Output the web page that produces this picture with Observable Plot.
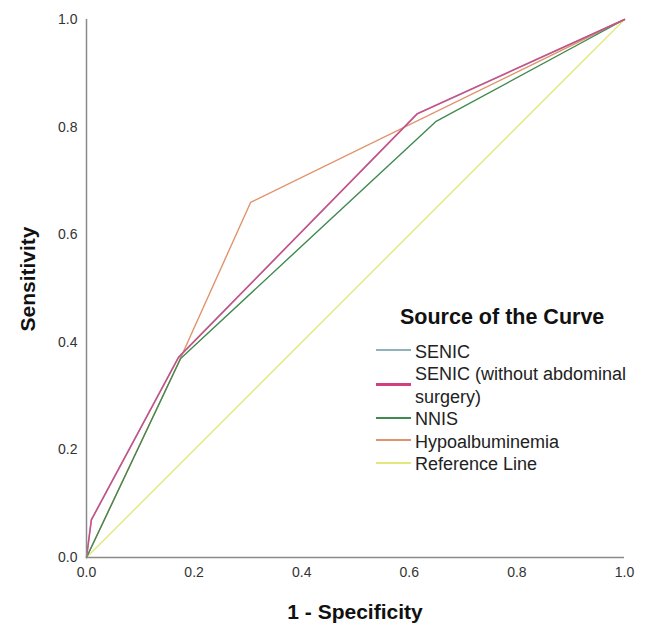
<!DOCTYPE html>
<html>
<head>
<meta charset="utf-8">
<script src="https://cdn.jsdelivr.net/npm/d3@7"></script>
<script src="https://cdn.jsdelivr.net/npm/@observablehq/plot@0.6"></script>
<style>
  html, body { margin: 0; padding: 0; background: #fff; }
  #wrap { position: relative; width: 646px; height: 628px; font-family: "Liberation Sans", Arial, sans-serif; }
  #legend { position: absolute; left: 376px; top: 305px; color: #222; font-size: 18px; }
  #legend .title { font-weight: bold; font-size: 21.5px; line-height: 24px; margin-left: 24px; margin-bottom: 11.5px; color: #111; }
  #legend .item { display: flex; align-items: center; line-height: 22.5px; }
  #legend .sw { width: 35px; flex: none; margin-right: 4px; margin-top: -3px; }
  .axlabel { position: absolute; font-weight: bold; font-size: 21px; color: #111; white-space: nowrap; line-height: 24px; }
  #xlabel { left: 355px; top: 612px; transform: translate(-50%, -50%); }
  #ylabel { left: 28px; top: 279px; transform: translate(-50%, -50%) rotate(-90deg); }
</style>
</head>
<body>
<div id="wrap"></div>
<script>
const seriesNames = ["SENIC", "SENIC (without abdominal surgery)", "NNIS", "Hypoalbuminemia", "Reference Line"];
const seriesColors = ["#8fb2bb", "#d0407f", "#3f8a4f", "#e0946c", "#e2e87c"];
const xLabel = "1 - Specificity";
const yLabel = "Sensitivity";
const legendTitle = "Source of the Curve";

const senicFpr = [0, 0.009, 0.171, 0.615, 1];
const senicTpr = [0, 0.070, 0.372, 0.825, 1];
const senicNoAbdFpr = [0, 0.009, 0.171, 0.615, 1];
const senicNoAbdTpr = [0, 0.070, 0.372, 0.825, 1];
const nnisFpr = [0, 0.175, 0.649, 1];
const nnisTpr = [0, 0.370, 0.810, 1];
const hypoFpr = [0, 0.170, 0.305, 1];
const hypoTpr = [0, 0.360, 0.660, 1];
const refFpr = [0, 1];
const refTpr = [0, 1];

const xTicks = [0, 0.2, 0.4, 0.6, 0.8, 1.0];
const yTicks = [0, 0.2, 0.4, 0.6, 0.8, 1.0];

const toRows = (name, xs, ys) => xs.map((x, i) => ({series: name, fpr: x, tpr: ys[i]}));
const curves = [
  toRows(seriesNames[4], refFpr, refTpr),
  toRows(seriesNames[3], hypoFpr, hypoTpr),
  toRows(seriesNames[2], nnisFpr, nnisTpr),
  toRows(seriesNames[0], senicFpr, senicTpr),
  toRows(seriesNames[1], senicNoAbdFpr, senicNoAbdTpr)
];

const color = Object.fromEntries(seriesNames.map((n, i) => [n, seriesColors[i]]));

const chart = Plot.plot({
  width: 646,
  height: 628,
  marginLeft: 86,
  marginRight: 22,
  marginTop: 19,
  marginBottom: 71,
  style: {fontFamily: "'Liberation Sans', Arial, sans-serif", background: "#fff"},
  x: {domain: [0, 1]},
  y: {domain: [0, 1]},
  marks: [
    Plot.axisX({ticks: xTicks, tickSize: 0, tickPadding: 10, tickFormat: d3.format(".1f"), fontSize: 14, color: "#333", label: null}),
    Plot.axisY({ticks: yTicks, tickSize: 0, tickPadding: 9, tickFormat: d3.format(".1f"), fontSize: 14, color: "#333", label: null}),
    ...curves.map((rows) => Plot.line(rows, {
      x: "fpr", y: "tpr",
      stroke: color[rows[0].series],
      strokeWidth: rows[0].series === seriesNames[1] ? 1.6 : 1.4,
      strokeOpacity: rows[0].series === seriesNames[1] ? 0.85 : 1
    })),
    Plot.ruleX([0], {stroke: "#8a8a8a", strokeWidth: 1.5}),
    Plot.ruleY([0], {stroke: "#8a8a8a", strokeWidth: 1.5})
  ]
});

const wrap = document.getElementById("wrap");
wrap.appendChild(chart);

const xl = document.createElement("div");
xl.className = "axlabel"; xl.id = "xlabel"; xl.textContent = xLabel;
wrap.appendChild(xl);
const yl = document.createElement("div");
yl.className = "axlabel"; yl.id = "ylabel"; yl.textContent = yLabel;
wrap.appendChild(yl);

const legend = document.createElement("div");
legend.id = "legend";
legend.innerHTML = `<div class="title">${legendTitle}</div>` +
  seriesNames.map((n, i) => {
    const label = n === seriesNames[1] ? "SENIC (without abdominal<br>surgery)" : n;
    const w = n === seriesNames[1] ? 3 : 2;
    return `<div class="item"><div class="sw" style="height:${w}px;background:${seriesColors[i]}"></div><div>${label}</div></div>`;
  }).join("");
wrap.appendChild(legend);
</script>
</body>
</html>
